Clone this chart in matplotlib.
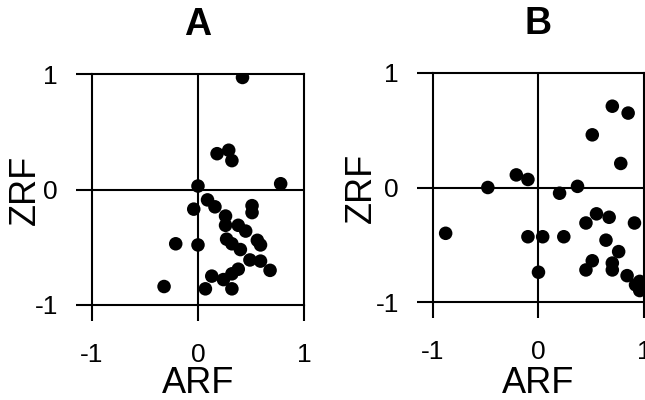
import matplotlib.pyplot as plt
import numpy as np

plt.rcParams['font.family'] = ['Liberation Sans', 'DejaVu Sans']

# panel A: ARF vs ZRF
arf_a = [0.42, 0.18, 0.29, 0.32, 0.78, 0.00, 0.09, 0.16, -0.04, 0.51, 0.51,
         0.26, 0.26, 0.38, 0.45, 0.27, 0.32, 0.56, 0.59, 0.40, -0.21, 0.00,
         0.49, 0.59, 0.68, 0.38, 0.32, 0.24, 0.13, 0.07, 0.32, -0.32]
zrf_a = [0.97, 0.31, 0.34, 0.25, 0.05, 0.03, -0.09, -0.15, -0.17, -0.14, -0.20,
         -0.23, -0.31, -0.31, -0.36, -0.43, -0.47, -0.44, -0.48, -0.52, -0.47, -0.48,
         -0.61, -0.62, -0.70, -0.69, -0.73, -0.78, -0.75, -0.86, -0.86, -0.84]

# panel B
arf_b = [0.70, 0.85, 0.51, 0.78, -0.21, -0.10, -0.48, 0.37, 0.20, -0.88, -0.10,
         0.04, 0.24, 0.45, 0.55, 0.67, 0.91, 0.64, 0.76, 0.00, 0.51, 0.45,
         0.70, 0.70, 0.84, 0.96, 0.96, 0.92]
zrf_b = [0.71, 0.65, 0.46, 0.21, 0.11, 0.07, 0.00, 0.01, -0.05, -0.40, -0.43,
         -0.43, -0.43, -0.31, -0.23, -0.26, -0.31, -0.46, -0.56, -0.74, -0.64, -0.72,
         -0.66, -0.72, -0.77, -0.82, -0.90, -0.85]

ticks = [-1, 0, 1]

fig = plt.figure(figsize=(6.45, 4.0), dpi=100)
ax_a = fig.add_axes([0.1426, 0.2375, 0.3287, 0.5775])
ax_b = fig.add_axes([0.6713, 0.245, 0.3271, 0.5725])

# label positions in axes coords (x of ZRF centre, y of ARF baseline)
panels = [(ax_a, arf_a, zrf_a, "A", -0.312, -0.381),
          (ax_b, arf_b, zrf_b, "B", -0.341, -0.397)]

for ax, xs, ys, title, zx, ay in panels:
    ax.scatter(xs, ys, s=95, c="black", edgecolors="none", zorder=3)
    ax.axhline(0, color="black", lw=1.5, zorder=1)
    ax.axvline(0, color="black", lw=1.5, zorder=1)
    ax.set_xlim(-1, 1)
    ax.set_ylim(-1, 1)
    ax.set_xticks(ticks)
    ax.set_yticks(ticks)
    ax.set_xticklabels([str(t) for t in ticks])
    ax.set_yticklabels([str(t) for t in ticks])
    for sp in ax.spines.values():
        sp.set_linewidth(1.5)
    ax.tick_params(axis="x", direction="out", length=11.5, width=1.5,
                   pad=16, labelsize=19)
    ax.tick_params(axis="y", direction="out", length=11.5, width=1.5,
                   pad=13, labelsize=19)
    ax.set_xlabel("ARF", fontsize=26, va="baseline")
    ax.xaxis.set_label_coords(0.5, ay)
    ax.set_ylabel("ZRF", fontsize=26, va="center")
    ax.yaxis.set_label_coords(zx, 0.5)
    ax.set_title(title, fontsize=27, fontweight="bold", pad=28)

fig.savefig("out.png", dpi=100)
